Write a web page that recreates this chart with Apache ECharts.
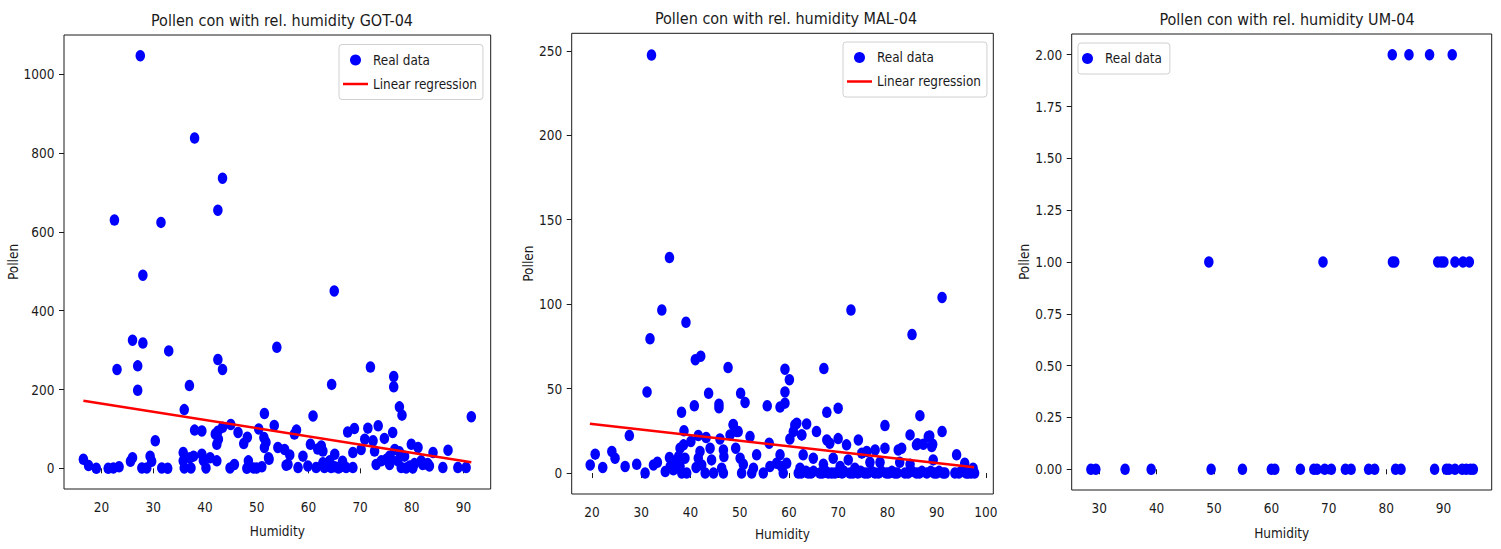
<!DOCTYPE html>
<html><head><meta charset="utf-8">
<script src="https://cdn.jsdelivr.net/npm/echarts@6/dist/echarts.min.js"></script>
<style>html,body{margin:0;padding:0;background:#fff}#c{width:1501px;height:549px}</style>
</head><body><div id="c"></div><script>
// ---------------- data ----------------
const panelTitles = ['Pollen con with rel. humidity GOT-04', 'Pollen con with rel. humidity MAL-04', 'Pollen con with rel. humidity UM-04'];
const xName = 'Humidity';
const yName = 'Pollen';

// GOT-04 : [humidity, pollen]
const gotPoints = [
 [27.5,1047],[38.0,838],[43.4,736],[42.5,655],[22.5,630],[31.5,624],[28.0,490],[65.0,450],
 [26.0,325],[28.0,318],[33.0,298],[53.9,307],[42.5,276],[23.0,251],[27.0,260],[43.4,251],[72.0,257],[76.5,233],[76.5,207],[27.0,198],[37.0,210],[64.5,213],
 [36.0,149],[77.6,156],[78.1,135],[51.5,139],[60.9,133],[91.5,131],
 [53.4,109],[45.0,111],[43.4,104],[73.5,108],[71.5,102],[68.9,101],[67.6,92],[57.7,97],[57.3,87],[50.4,100],[46.4,91],[42.5,94],[38.0,97],[39.4,95],
 [48.2,79],[47.5,63],[51.4,78],[51.8,66],[51.5,53],[54.1,53],[42.0,87],[42.6,74],[42.3,61],[30.4,70],[35.8,40],[39.4,36],[37.8,31],[37.1,27],[41.0,27],[52.3,27],
 [62.5,57],[60.4,61],[62.8,44],[55.4,48],[56.4,34],[58.95,31],[65.1,36],[68.6,40],[70.2,48],[70.9,74],[72.5,70],[72.8,44],[74.7,76],[76.7,48],[77.6,42],
 [79.9,61],[81.2,53],[84.1,40],[87.0,46],[76.3,91],[75.7,31],[78.6,31],[29.4,31],[26.0,27],[61.8,49],
 [16.5,23],[17.5,7],[19.0,0],[21.3,0],[22.3,1],[23.4,4],[25.6,18],[27.8,1],[28.75,1],[29.7,18],[31.65,1],[32.8,0],[35.8,19],[36.0,1],[37.3,1],[39.7,20],[40.2,1],
 [42.3,19],[44.85,1],[45.7,10],[48.1,0],[48.4,19],[49.4,1],[50.0,1],[51.0,4],[52.4,23],
 [55.7,8],[56.05,10],[58.0,2],[59.9,6],[61.5,2],[62.8,14],[63.1,2],[64.1,19],[64.4,2],[65.1,4],[65.8,1],[66.0,2],[66.6,18],[67.3,2],[68.6,2],
 [73.1,10],[74.1,19],[75.1,23],[75.7,10],[76.0,23],[77.3,19],[77.95,2],[78.9,1],[79.6,6],[80.2,1],[80.5,12],[81.8,19],[82.1,10],[82.8,11],[83.1,12],[83.4,6],
 [86.0,2],[88.9,2],[90.5,2]
];
const gotRegression = [[16.5,171.5],[91.5,15.7]];

// MAL-04 : [humidity, pollen]
const malPoints = [
 [32.1,247.5],[35.75,127.6],[34.2,96.5],[39.1,89.3],[31.8,79.5],[72.6,96.5],[91.1,104],[85.0,82],[41.0,67.1],[42.1,69.2],[47.65,62.5],[59.2,61.5],[60.1,55.3],[67.1,61.9],
 [31.2,48],[43.7,47.2],[50.2,47.2],[51.1,41.8],[59.2,48],[59.2,41.4],[45.8,40.8],[45.8,38.7],[40.8,39.8],[55.6,39.8],[58.2,39.1],[38.2,36],[67.7,36],[70.0,38.4],
 [79.5,28.1],[86.6,34],[91.1,24.6],[48.7,28.8],[49.7,24.6],[61.6,29.5],[63.6,29.1],[65.6,24.6],[62.6,22.6],[60.9,24.6],[84.6,22.6],[88.6,22],[89.2,17],[86.1,17.4],
 [19.66,4.8],[20.67,11.2],[22.2,3.3],[24.05,12.8],[24.7,8.8],[26.75,3.9],[27.6,22.2],[29.1,5.2],[30.8,0],[32.5,4.8],[33.3,6.4],[34.9,0.9],[35.75,9.2],[35.9,3.9],
 [36.55,1.9],[37.2,5.8],[37.9,14.7],[38.6,16.7],[38.7,25],[37.6,9.8],[37.9,3.9],[38.25,0],[38.9,8.8],[39.25,0],[40.1,18.7],[41.15,3.3],[41.6,8.8],[41.6,22.2],
 [41.95,12.8],[42.3,4.8],[43.2,21.0],[43.0,0],[44.0,14.7],[44.3,7.8],[44.7,0],[46.0,20.2],[46.35,2.9],[46.7,13.7],[46.7,0],[46.8,9.8],[48.05,22.6],[48.7,28.5],
 [49.2,14.7],[49.4,24.6],[50.1,8.8],[50.4,0],[50.75,5.2],[52.1,21.6],[52.45,0],[52.8,2.9],[53.45,10.8],[54.8,0],[56.0,17.7],[56.15,3.9],[57.5,5.8],[58.2,10.8],[58.85,0],
 [59.55,5.8],[58.5,3.9],[60.2,20.2],[61.2,28.5],[62.6,22.6],[62.9,10.8],[62.25,2.9],[61.9,0],[63.9,0],[64.95,8.8],[66.3,0],[67.0,5.2],[67.7,19.6],[68.3,17.7],
 [68.0,0],[69.0,8.8],[70.0,20.4],[69.35,0],[70.4,3.9],[71.7,16.7],[72.05,7.8],[72.4,0],[73.4,2.9],[74.1,19.6],[74.8,11.8],[75.8,12.8],[75.4,0],[76.45,6.4],
 [77.5,13.7],[77.5,0],[78.5,6.4],[79.5,14.7],[79.8,0],[81.5,0],[82.2,13.7],[82.9,14.7],[82.5,6.4],[83.55,0],[84.6,5.2],[85.9,16.7],[85.9,0],[87.3,17.1],
 [88.3,21.6],[89.0,15.7],[89.3,7.8],[90.0,0],[91.7,0],[93.7,0],[94.05,10.8],[95.7,5.8],[96.4,0],[97.4,2.9],[97.7,0],
 [62.5,0],[63.5,1],[64.5,0],[65.0,1],[66.8,0],[67.5,1],[68.7,0],[70.8,0],[71.2,1],[73.0,0],[74.0,0],[74.6,1],[76.0,0],[76.8,1],[78.2,0],[78.8,1],[80.3,0],
 [80.9,1],[82.0,0],[84.2,0],[85.0,1],[86.5,0],[87.0,1],[88.0,0],[88.8,1],[89.5,0],[90.5,1],[91.3,0],[94.5,0],[95.0,1],[96.0,0],[97.0,0]
];
const malRegression = [[19.6,29.2],[97.6,3.4]];

// UM-04 : humidity values for each pollen level
const umLevels = [0, 1, 2];
const umHumidityAt0 = [28.55,29.4,34.5,39.05,49.5,54.96,60.0,60.6,65.05,67.4,67.95,69.3,70.45,72.9,73.9,76.95,78.0,81.65,82.6,88.45,90.5,90.95,92.0,93.26,93.96,94.7,95.2];
const umHumidityAt1 = [49.1,69.0,81.1,81.5,89.0,89.6,90.07,92.0,93.4,94.5];
const umHumidityAt2 = [81.07,83.98,87.57,91.52];

// ticks
const gotXTicks = [20,30,40,50,60,70,80,90];
const gotYTicks = [0,200,400,600,800,1000];
const malXTicks = [20,30,40,50,60,70,80,90,100];
const malYTicks = [0,50,100,150,200,250];
const umXTicks = [30,40,50,60,70,80,90];
const umYTicks = [0,0.25,0.5,0.75,1.0,1.25,1.5,1.75,2.0];

// ---------------- chart ----------------
const umPoints = [];
[umHumidityAt0, umHumidityAt1, umHumidityAt2].forEach((arr, i) => arr.forEach(h => umPoints.push([h, umLevels[i]])));

const FONT = "'DejaVu Sans Condensed','DejaVu Sans',sans-serif";
const INK = '#1a1a1a';
const grids = [
  {left: 64, top: 35, width: 426.7, height: 454},
  {left: 571.7, top: 33.3, width: 421.6, height: 460.7},
  {left: 1071.7, top: 34, width: 420, height: 456}
];
const xr = [[12.75, 95.25], [15.9, 101.5], [25.2, 98.4]];
const yr = [[-52.4, 1099.4], [-12.4, 260.4], [-0.1, 2.1]];
const xt = [gotXTicks, malXTicks, umXTicks];
const yt = [gotYTicks, malYTicks, umYTicks];
const xGaps = [35, 33, 36];
const yGaps = [44, 36, 40];

function xAxis(i) {
  return {
    type: 'value', gridIndex: i, min: xr[i][0], max: xr[i][1],
    name: xName, nameLocation: 'middle', nameGap: xGaps[i],
    nameTextStyle: {fontFamily: FONT, fontSize: 13.5, color: INK},
    axisLine: {show: false}, splitLine: {show: false},
    axisTick: {show: true, length: 5, lineStyle: {color: INK}, customValues: xt[i]},
    axisLabel: {fontFamily: FONT, fontSize: 13.5, color: INK, margin: 11, customValues: xt[i]}
  };
}
function yAxis(i) {
  return {
    type: 'value', gridIndex: i, min: yr[i][0], max: yr[i][1],
    name: yName, nameLocation: 'middle', nameGap: yGaps[i], nameRotate: 90,
    nameTextStyle: {fontFamily: FONT, fontSize: 13.5, color: INK},
    axisLine: {show: false}, splitLine: {show: false},
    axisTick: {show: true, length: 5, lineStyle: {color: INK}, customValues: yt[i]},
    axisLabel: {fontFamily: FONT, fontSize: 13.5, color: INK, margin: 9.5, customValues: yt[i],
      formatter: v => i === 2 ? v.toFixed(2) : String(v)}
  };
}
const titleCenters = [[277, 7], [781, 5], [1282, 6]];
const legendBox = {
  orient: 'vertical', backgroundColor: '#fff', borderColor: '#d0d0d0', borderWidth: 1, borderRadius: 3,
  itemWidth: 25, itemHeight: 11, itemGap: 11, padding: [9, 6, 9, 4],
  textStyle: {fontFamily: FONT, fontSize: 13.4, color: INK}
};
const lineIcon = 'path://M0,0H25V2.5H0Z';

const scatterStyle = {type: 'scatter', symbol: 'circle', symbolSize: [9.5, 11.5], itemStyle: {color: '#0000ff', opacity: 1}, z: 2};
const lineStyle = {type: 'line', symbol: 'none', showSymbol: false, lineStyle: {color: '#ff0000', width: 2.5}, itemStyle: {color: '#ff0000'}, z: 3};

const option = {
  animation: false,
  backgroundColor: '#fff',
  title: panelTitles.map((t, i) => ({
    text: t, left: titleCenters[i][0], top: titleCenters[i][1], textAlign: 'center',
    textStyle: {fontFamily: FONT, fontSize: 16, fontWeight: 'normal', color: INK}
  })),
  grid: grids.map(g => Object.assign({show: true, borderColor: INK, borderWidth: 1, backgroundColor: 'transparent'}, g)),
  xAxis: [0, 1, 2].map(xAxis),
  yAxis: [0, 1, 2].map(yAxis),
  legend: [
    Object.assign({}, legendBox, {left: 339, top: 44.5, data: ['Real data', {name: 'Linear regression', icon: lineIcon}]}),
    Object.assign({}, legendBox, {left: 843, top: 42, data: ['Real data', {name: 'Linear regression', icon: lineIcon}]}),
    Object.assign({}, legendBox, {left: 1078, top: 43, padding: [9, 8, 9, 4], data: ['Real data']})
  ],
  series: [
    Object.assign({}, scatterStyle, {name: 'Real data', xAxisIndex: 0, yAxisIndex: 0, data: gotPoints}),
    Object.assign({}, lineStyle, {name: 'Linear regression', xAxisIndex: 0, yAxisIndex: 0, data: gotRegression}),
    Object.assign({}, scatterStyle, {name: 'Real data', xAxisIndex: 1, yAxisIndex: 1, data: malPoints}),
    Object.assign({}, lineStyle, {name: 'Linear regression', xAxisIndex: 1, yAxisIndex: 1, data: malRegression}),
    Object.assign({}, scatterStyle, {name: 'Real data', xAxisIndex: 2, yAxisIndex: 2, data: umPoints})
  ]
};
const chart = echarts.init(document.getElementById('c'), null, {renderer: 'svg'});
chart.setOption(option);
</script></body></html>
